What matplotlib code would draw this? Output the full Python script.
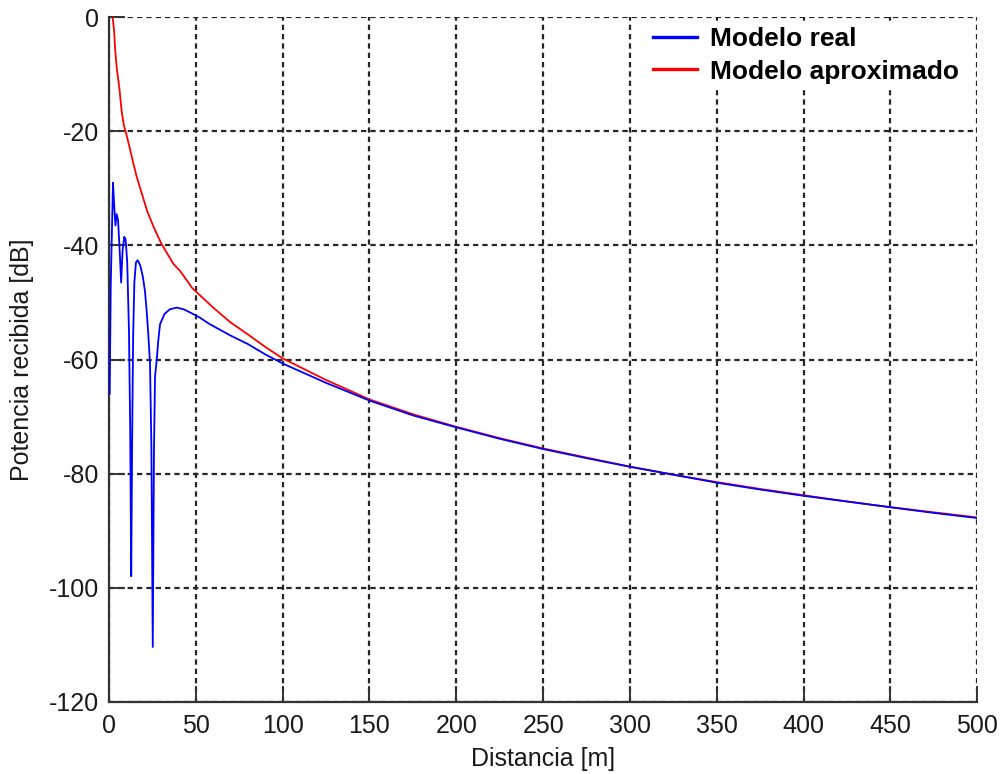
import matplotlib
matplotlib.use("Agg")
import matplotlib.pyplot as plt

# ---- data ----
dist_real = [0.4, 1.0, 2.3, 3.0, 3.7, 4.4, 5.2, 6.0, 7.0, 7.8, 8.8, 9.6, 10.5,
             11.5, 12.2, 12.8, 13.3, 13.9, 14.6, 15.5, 16.5, 18.0, 19.5, 20.7,
             21.7, 22.6, 23.6, 24.4, 25.2, 25.9, 26.5, 27.5, 28.4, 29.4, 32.0,
             35.0, 39.0, 43.0, 47.0, 52.0, 58.0, 64.0, 70.0, 80.0, 90.0, 100.0,
             125.0, 150.0, 175.0, 200.0, 225.0, 250.0, 275.0, 300.0, 325.0,
             350.0, 375.0, 400.0, 425.0, 450.0, 475.0, 500.0]
pot_real = [-66.0, -47.0, -29.0, -33.0, -36.5, -34.5, -35.5, -40.0, -46.5, -41.0,
            -38.5, -39.0, -43.0, -55.0, -72.0, -98.0, -75.0, -56.0, -46.5, -43.0,
            -42.6, -43.5, -45.5, -48.0, -51.5, -55.5, -60.5, -75.0, -110.4, -76.0,
            -63.0, -60.0, -56.6, -53.8, -52.0, -51.2, -50.9, -51.2, -51.8, -52.6,
            -53.8, -54.8, -55.8, -57.3, -59.1, -60.7, -64.1, -67.2, -69.8, -71.9,
            -73.9, -75.7, -77.3, -78.8, -80.2, -81.6, -82.8, -83.9, -84.9, -85.9,
            -86.9, -87.8]

dist_aprox = [2.1, 3.0, 3.5, 4.5, 6.0, 7.3, 8.6, 10.0, 12.0, 14.0, 16.0, 19.0,
              22.0, 25.6, 30.0, 37.0, 41.0, 48.0, 60.0, 70.0, 80.0, 90.0, 100.0,
              125.0, 150.0, 175.0, 200.0, 225.0, 250.0, 275.0, 300.0, 325.0,
              350.0, 375.0, 400.0, 425.0, 450.0, 475.0, 500.0]
pot_aprox = [0.0, -2.5, -5.5, -9.0, -12.5, -16.5, -19.0, -20.5, -23.0, -25.6,
             -28.0, -31.0, -34.0, -36.7, -39.6, -43.2, -44.5, -47.5, -50.9, -53.5,
             -55.6, -57.8, -59.8, -63.6, -67.0, -69.6, -71.8, -73.8, -75.6, -77.2,
             -78.8, -80.2, -81.5, -82.7, -83.8, -84.9, -85.9, -86.8, -87.7]

x_ticks = [0, 50, 100, 150, 200, 250, 300, 350, 400, 450, 500]
y_ticks = [-120, -100, -80, -60, -40, -20, 0]

label_real = "Modelo real"
label_aprox = "Modelo aproximado"
x_label = "Distancia [m]"
y_label = "Potencia recibida [dB]"

# ---- figure ----
plt.rcParams['font.family'] = ['Liberation Sans', 'DejaVu Sans']
fig = plt.figure(figsize=(10.03, 7.74), dpi=100, facecolor='white')
ax = fig.add_axes([109 / 1003, 1 - 701.7 / 774, (977.3 - 109) / 1003, (701.7 - 17.3) / 774])

l_aprox, = ax.plot(dist_aprox, pot_aprox, color='#ff0000', lw=1.3, zorder=3)
l_real, = ax.plot(dist_real, pot_real, color='#0000ff', lw=1.3, zorder=4)

ax.set_xlim(0, 500)
ax.set_ylim(-120, 0)
ax.set_xticks(x_ticks)
ax.set_yticks(y_ticks)
ax.set_xticklabels([str(v) for v in x_ticks])
ax.set_yticklabels([str(v) for v in y_ticks])

ax.grid(True, color='#262626', linestyle=(0, (2.4, 1.8)), linewidth=1.6)
ax.set_axisbelow(True)

for side in ('top', 'right'):
    ax.spines[side].set_visible(False)
for side in ('left', 'bottom'):
    ax.spines[side].set_color('#333333')
    ax.spines[side].set_linewidth(1.6)

ax.tick_params(axis='both', direction='in', length=11.5, width=1.4, color='#333333',
               labelsize=18, labelcolor='#1a1a1a', pad=7)
ax.tick_params(axis='x', pad=9)

ax.set_xlabel(x_label, fontsize=18, color='#1a1a1a', labelpad=6)
ax.set_ylabel(y_label, fontsize=18, color='#1a1a1a', labelpad=11)

leg = ax.legend([l_real, l_aprox], [label_real, label_aprox], loc='upper right',
                bbox_to_anchor=(1 - 10 / 868.3, 1 - 2 / 684.4),
                prop={'weight': 'bold', 'size': 19}, frameon=True, fancybox=False,
                edgecolor='white', facecolor='white', framealpha=1.0,
                handlelength=1.67, handletextpad=0.5, borderaxespad=0.1,
                labelspacing=0.32, borderpad=0.2)
for h in leg.legend_handles:
    h.set_linewidth(2.4)
leg.set_zorder(10)

fig.savefig("out.png", dpi=100, facecolor='white')
